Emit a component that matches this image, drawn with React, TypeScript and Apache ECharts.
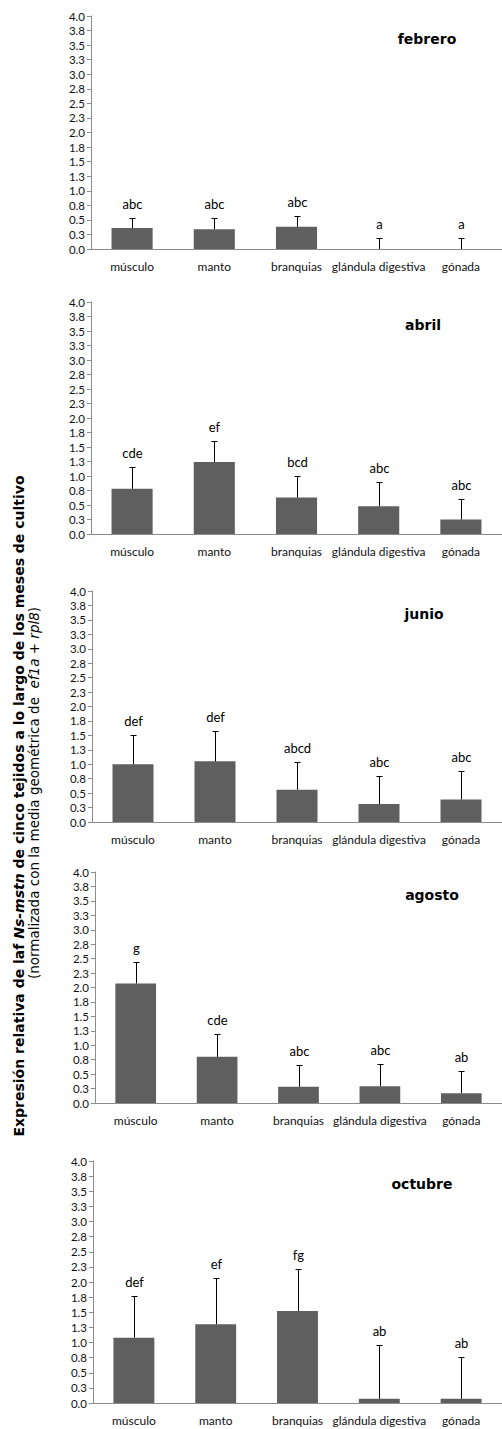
import React, { useEffect, useRef } from "react";
import * as echarts from "echarts";

const categories = ["músculo", "manto", "branquias", "glándula digestiva", "gónada"];
const months = ["febrero", "abril", "junio", "agosto", "octubre"];

const febValues = [0.36, 0.34, 0.38, 0, 0];
const febErrors = [0.17, 0.19, 0.19, 0.19, 0.19];
const febLetters = ["abc", "abc", "abc", "a", "a"];

const abrValues = [0.78, 1.24, 0.63, 0.48, 0.25];
const abrErrors = [0.37, 0.37, 0.37, 0.41, 0.36];
const abrLetters = ["cde", "ef", "bcd", "abc", "abc"];

const junValues = [1.0, 1.05, 0.56, 0.31, 0.39];
const junErrors = [0.5, 0.53, 0.48, 0.49, 0.49];
const junLetters = ["def", "def", "abcd", "abc", "abc"];

const agoValues = [2.07, 0.8, 0.28, 0.29, 0.17];
const agoErrors = [0.37, 0.39, 0.38, 0.39, 0.38];
const agoLetters = ["g", "cde", "abc", "abc", "ab"];

const octValues = [1.08, 1.3, 1.52, 0.07, 0.07];
const octErrors = [0.69, 0.77, 0.69, 0.89, 0.69];
const octLetters = ["def", "ef", "fg", "ab", "ab"];

const yTickLabels = ["0.0", "0.3", "0.5", "0.8", "1.0", "1.3", "1.5", "1.8", "2.0", "2.3", "2.5", "2.8", "3.0", "3.3", "3.5", "3.8", "4.0"];

const panels = [
  { values: febValues, errors: febErrors, letters: febLetters },
  { values: abrValues, errors: abrErrors, letters: abrLetters },
  { values: junValues, errors: junErrors, letters: junLetters },
  { values: agoValues, errors: agoErrors, letters: agoLetters },
  { values: octValues, errors: octErrors, letters: octLetters },
];

// layout (pixels)
const gridTops = [16, 302, 591, 872, 1161];
const gridBottoms = [249, 534, 822, 1103, 1403];
const gridLefts = [91, 91, 92, 95, 93];
const titleX = [427, 423, 424, 432, 422];

export default function App() {
  const ref = useRef<HTMLDivElement>(null);
  useEffect(() => {
    if (!ref.current) return;
    const chart = echarts.init(ref.current, null, { renderer: "svg" });
    const grids: any[] = [];
    const xAxes: any[] = [];
    const yAxes: any[] = [];
    const series: any[] = [];
    const graphics: any[] = [];
    panels.forEach((p, k) => {
      grids.push({
        left: gridLefts[k],
        top: gridTops[k],
        width: 412,
        height: gridBottoms[k] - gridTops[k],
      });
      xAxes.push({
        type: "category",
        gridIndex: k,
        data: categories,
        axisLine: { lineStyle: { color: "#8c8c8c", width: 1 } },
        axisTick: { show: false },
        axisLabel: { color: "#111", fontFamily: "Lato", fontSize: 12, margin: 11, interval: 0 },
      });
      yAxes.push({
        type: "value",
        gridIndex: k,
        min: 0,
        max: 4,
        interval: 0.25,
        splitLine: { show: false },
        axisLine: { show: true, lineStyle: { color: "#8c8c8c", width: 1 } },
        axisTick: { show: true, length: 4, lineStyle: { color: "#8c8c8c" } },
        axisLabel: {
          color: "#111",
          fontFamily: "Lato",
          fontSize: 11.5,
          margin: 6,
          formatter: (v: number) => yTickLabels[Math.round(v / 0.25)],
        },
      });
      series.push({
        type: "bar",
        xAxisIndex: k,
        yAxisIndex: k,
        data: p.values,
        barWidth: "50%",
        itemStyle: { color: "#5f5f5f" },
        silent: true,
      });
      series.push({
        type: "custom",
        xAxisIndex: k,
        yAxisIndex: k,
        z: 5,
        data: p.values.map((v, i) => [i, v, p.errors[i]]),
        renderItem: (params: any, api: any) => {
          const i = api.value(0);
          const v = api.value(1);
          const e = api.value(2);
          const base = api.coord([i, v]);
          const top = api.coord([i, v + e]);
          const x = Math.round(base[0]) + 0.5;
          const yt = Math.round(top[1]) + 0.5;
          return {
            type: "group",
            children: [
              { type: "line", shape: { x1: x, y1: base[1], x2: x, y2: yt }, style: { stroke: "#000", lineWidth: 1 } },
              { type: "line", shape: { x1: x - 3, y1: yt, x2: x + 3, y2: yt }, style: { stroke: "#000", lineWidth: 1 } },
              {
                type: "text",
                style: {
                  text: p.letters[params.dataIndex],
                  x: x,
                  y: yt - 15,
                  textAlign: "center",
                  textVerticalAlign: "middle",
                  fontFamily: "Lato",
                  fontSize: 13,
                  fill: "#000",
                },
              },
            ],
          };
        },
      });
      graphics.push({
        type: "text",
        x: titleX[k],
        y: gridTops[k] + 23,
        style: {
          text: months[k],
          textAlign: "center",
          textVerticalAlign: "middle",
          fontFamily: "DejaVu Sans",
          fontWeight: "bold",
          fontSize: 14,
          fill: "#000",
        },
      });
    });
    graphics.push({
      type: "text",
      x: 19,
      y: 806,
      rotation: Math.PI / 2,
      style: {
        text: "{b|Expresión relativa de laf }{bi|Ns-mstn}{b| de cinco tejidos a lo largo de los meses de cultivo}",
        textAlign: "center",
        textVerticalAlign: "middle",
        rich: {
          b: { fontFamily: "DejaVu Sans", fontWeight: "bold", fontSize: 14, fill: "#000" },
          bi: { fontFamily: "DejaVu Sans", fontWeight: "bold", fontStyle: "italic", fontSize: 14, fill: "#000" },
        },
      },
    });
    graphics.push({
      type: "text",
      x: 34,
      y: 793,
      rotation: Math.PI / 2,
      style: {
        text: "{n|(normalizada con la media geométrica de  }{i|ef1a + rpl8}{n|)}",
        textAlign: "center",
        textVerticalAlign: "middle",
        rich: {
          n: { fontFamily: "DejaVu Sans", fontSize: 13.5, fill: "#000" },
          i: { fontFamily: "DejaVu Sans", fontStyle: "italic", fontSize: 13.5, fill: "#000" },
        },
      },
    });
    chart.setOption({
      animation: false,
      grid: grids,
      xAxis: xAxes,
      yAxis: yAxes,
      series,
      graphic: graphics,
    });
    return () => chart.dispose();
  }, []);
  return (
    <div
      ref={ref}
      style={{ position: "absolute", left: 0, top: 0, width: 502, height: 1429, background: "#fff" }}
    />
  );
}
